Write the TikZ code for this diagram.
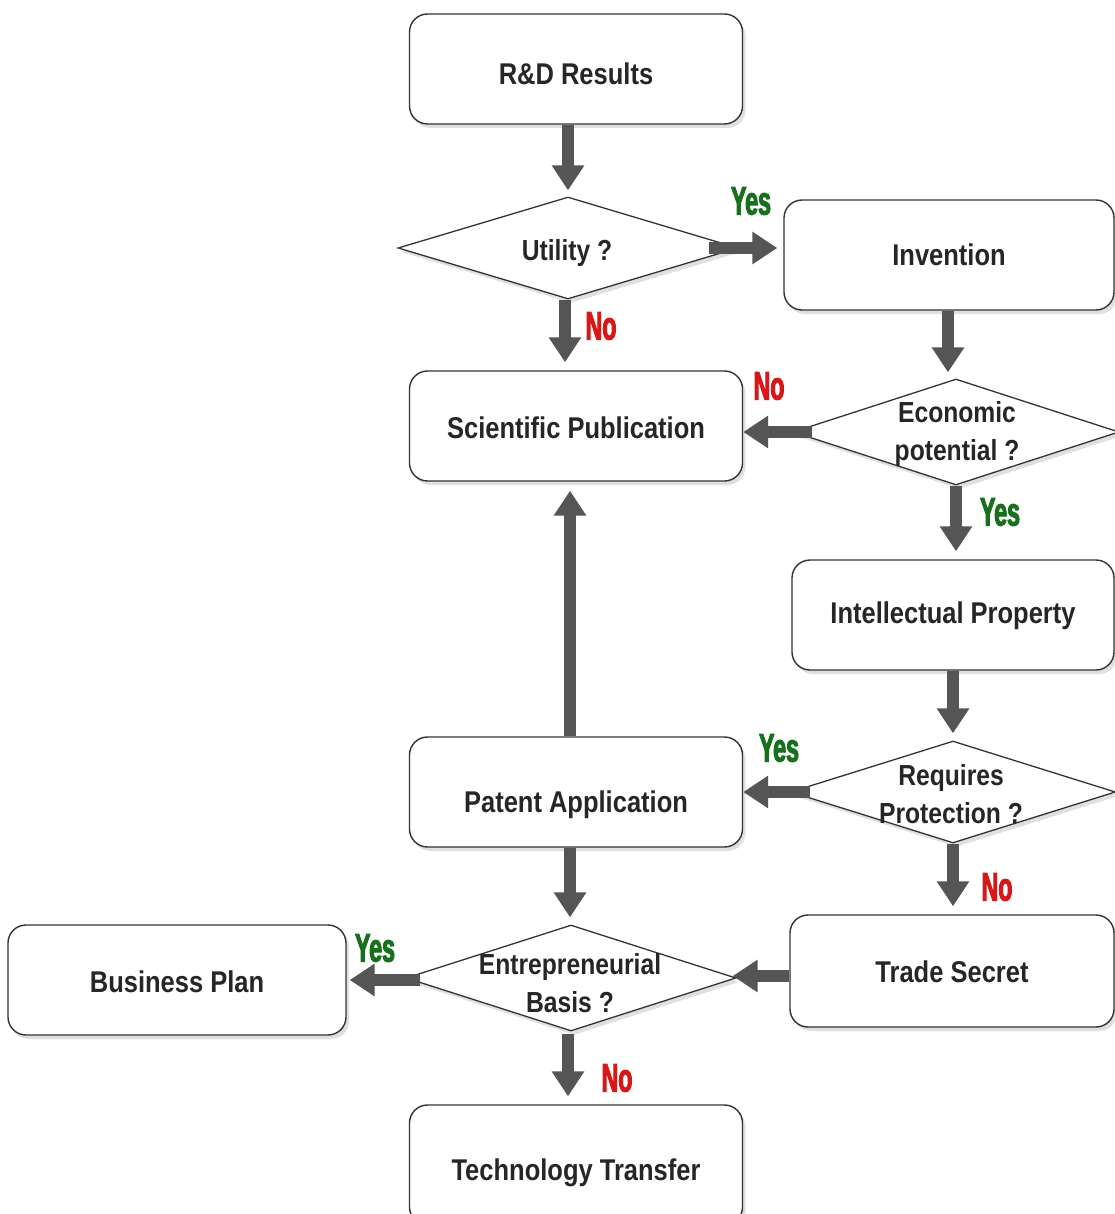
\documentclass[tikz,border=0pt]{standalone}
\usepackage{fontspec}
\setmainfont{Liberation Sans}
\newfontfamily\boxfont{Liberation Sans}[FakeStretch=0.85]
\newfontfamily\ynfont{Liberation Sans Bold}[FakeStretch=0.58, FakeBold=2.5]
\usetikzlibrary{shapes.geometric,arrows.meta,shadows}
\definecolor{arrowgray}{HTML}{555555}
\definecolor{edgegray}{HTML}{333333}
\definecolor{yesgreen}{HTML}{17701C}
\definecolor{nored}{HTML}{D81818}
\tikzset{
  pbox/.style={draw=edgegray, line width=1.4pt, rounded corners=18pt, fill=white,
    minimum width=333pt, minimum height=110pt, align=center,
    text height=25pt, text depth=0pt,
    font=\boxfont\bfseries\fontsize{30}{38}\selectfont, text=black!85,
    drop shadow={shadow xshift=3pt, shadow yshift=-4pt, opacity=0.12, fill=black}},
  pdia/.style={diamond, draw=edgegray, line width=1.3pt, fill=white, inner sep=0pt,
    drop shadow={shadow xshift=3pt, shadow yshift=-4pt, opacity=0.12, fill=black}},
  dtext/.style={align=center, font=\boxfont\bfseries\fontsize{29}{38}\selectfont, text=black!85},
  flow/.style={draw=arrowgray, line width=12pt, -{Triangle[width=31pt,length=25pt]}},
  yeslab/.style={font=\ynfont\fontsize{40}{40}\selectfont, text=yesgreen},
  nolab/.style={font=\ynfont\fontsize{40}{40}\selectfont, text=nored},
}
\begin{document}
\begin{tikzpicture}[x=1pt,y=-1pt]
\useasboundingbox[fill=white] (0,0) rectangle (1115,1214);

% boxes
\node[pbox, text height=31pt] (rd)  at (576,69)  {R\&D Results};
\node[pbox, minimum width=330pt, text height=21pt] (inv) at (949,255) {Invention};
\node[pbox] (sci) at (576,426) {Scientific Publication};
\node[pbox, minimum width=322pt, text height=17pt] (ip)  at (953,615) {Intellectual Property};
\node[pbox, text height=41pt] (pat) at (576,792) {Patent Application};
\node[pbox, minimum width=324pt, minimum height=112pt, text height=23pt] (ts) at (952,971) {Trade Secret};
\node[pbox, minimum width=338pt] (bp) at (177,980) {Business Plan};
\node[pbox, minimum height=120pt, text height=31pt] (tt) at (576,1165) {Technology Transfer};

% diamonds
\node[pdia, minimum width=340pt, minimum height=102pt] (util) at (568,248) {};
\node[dtext] (utilT) at (567,253) {Utility ?};
\node[pdia, minimum width=326pt, minimum height=106pt] (eco) at (956,432) {};
\node[dtext] (ecoT) at (957,434) {Economic\\potential ?};
\node[pdia, minimum width=325pt, minimum height=102pt] (req) at (953,792) {};
\node[dtext] (reqT) at (951,794) {Requires\\Protection ?};
\node[pdia, minimum width=330pt, minimum height=106pt] (ent) at (571,978) {};
\node[dtext] (entT) at (570,983) {Entrepreneurial\\Basis ?};

% connectors
\draw[flow] (rd.south -| util.north) -- ([yshift=6pt]util.north);
\draw[flow] ([xshift=-30pt]util.east) -- ([xshift=-6pt]inv.west |- util.east);
\draw[flow] ([xshift=-3pt]util.south) -- ([xshift=-3pt,yshift=8pt]sci.north -| util.south);
\draw[flow] (inv.south -| 948,0) -- ([yshift=6pt]eco.north -| 948,0);
\draw[flow] ([xshift=20pt]eco.west) -- (sci.east |- eco.west);
\draw[flow] (eco.south) -- ([yshift=8pt]ip.north -| eco.south);
\draw[flow] (ip.south -| req.north) -- ([yshift=7pt]req.north);
\draw[flow] ([xshift=20pt]req.west) -- (pat.east |- req.west);
\draw[flow] (req.south) -- ([yshift=8pt]ts.north -| req.south);
\draw[flow] ([xshift=-6pt]pat.north) -- ([xshift=-6pt,yshift=-9pt]sci.south);
\draw[flow] ([xshift=-6pt]pat.south) -- ([yshift=7pt]ent.north -| 570,0);
\draw[flow] (ts.west |- 0,976) -- ([xshift=-4pt]ent.east |- 0,976);
\draw[flow] ([xshift=15pt]ent.west |- 0,980) -- ([xshift=3pt]bp.east |- 0,980);
\draw[flow] ([yshift=-2pt]ent.south -| 568,0) -- ([yshift=8pt]tt.north -| 568,0);

% labels
\node[yeslab] (l1) at (751,201) {Yes};
\node[nolab]  (l2) at (601,326) {No};
\node[nolab]  (l3) at (769,386) {No};
\node[yeslab] (l4) at (1000,512) {Yes};
\node[yeslab] (l5) at (779,748) {Yes};
\node[nolab]  (l6) at (997,887) {No};
\node[yeslab] (l7) at (375,948) {Yes};
\node[nolab]  (l8) at (617,1078) {No};
\end{tikzpicture}
\end{document}
